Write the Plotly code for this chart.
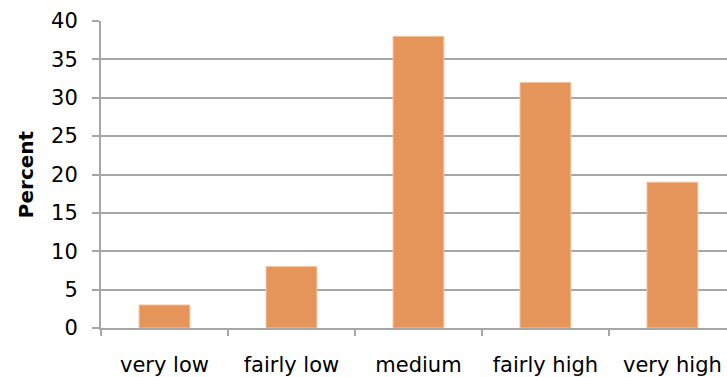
import plotly.graph_objects as go

categories = ["very low", "fairly low", "medium", "fairly high", "very high"]
percent = [3, 8, 38, 32, 19]
y_ticks = [0, 5, 10, 15, 20, 25, 30, 35, 40]

BAR = "#E5945A"
GRID = "#A6A6A6"
FONT = "DejaVu Sans"

fig = go.Figure(
    go.Bar(
        x=categories,
        y=percent,
        marker=dict(color=BAR, line=dict(color="#F3C29C", width=1)),
        width=0.4,
    )
)

fig.update_layout(
    width=727,
    height=377,
    margin=dict(l=101, r=0, t=21, b=49),
    paper_bgcolor="white",
    plot_bgcolor="white",
    showlegend=False,
    font=dict(family=FONT, size=21, color="black"),
)

fig.update_xaxes(
    type="category",
    range=[-0.5, 4.43],
    showgrid=False,
    showline=True,
    linecolor=GRID,
    linewidth=2,
    ticks="outside",
    tickson="boundaries",
    ticklen=6,
    tickwidth=2,
    tickcolor=GRID,
    ticklabelstandoff=17,
    tickfont=dict(family=FONT, size=21),
)

fig.update_yaxes(
    range=[0, 40],
    tickvals=y_ticks,
    showgrid=True,
    gridcolor=GRID,
    gridwidth=2,
    zeroline=False,
    showline=True,
    linecolor=GRID,
    linewidth=2,
    ticks="outside",
    ticklen=7,
    tickwidth=2,
    tickcolor=GRID,
    ticklabelstandoff=10,
    tickfont=dict(family=FONT, size=21),
    title=dict(text="<b>Percent</b>", font=dict(family=FONT, size=20), standoff=12),
)

fig.write_html("out.html")
